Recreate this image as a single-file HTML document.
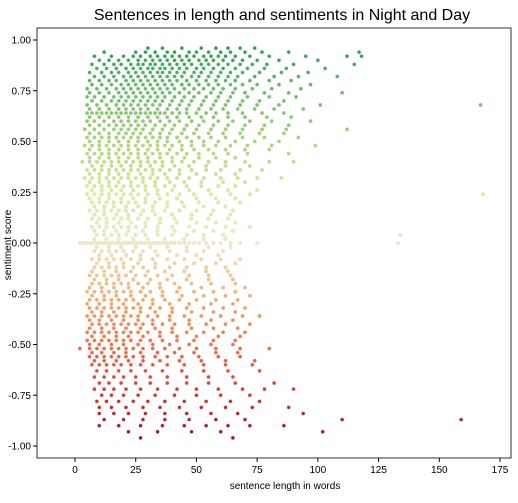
<!DOCTYPE html>
<html><head><meta charset="utf-8"><style>
body{margin:0;background:#fff;}
svg text{font-family:"Liberation Sans",sans-serif;}
</style></head><body>
<svg id="chart" width="518" height="498">
<text x="282" y="20" text-anchor="middle" font-size="16">Sentences in length and sentiments in Night and Day</text>
<g id="pts"></g>
<rect x="37" y="28" width="474" height="430" fill="none" stroke="#000" stroke-width="0.8"/>
<g id="axes"></g>
<text x="285" y="489" text-anchor="middle" font-size="10">sentence length in words</text>
<text x="11" y="245" text-anchor="middle" font-size="10" transform="rotate(-90 11 245)">sentiment score</text>
</svg>
<script>
const xTicks=[0,25,50,75,100,125,150,175];
const yTicks=[1,0.75,0.5,0.25,0,-0.25,-0.5,-0.75,-1];
const rowSentiments=[0.96,0.94,0.92,0.90,0.88,0.86,0.84,0.82,0.80,0.78,0.76,0.74,0.72,0.70,0.68,0.66,0.64,0.62,0.60,0.58,0.56,0.54,0.52,0.50,0.48,0.46,0.44,0.42,0.40,0.38,0.36,0.34,0.32,0.30,0.28,0.26,0.24,0.22,0.20,0.18,0.16,0.14,0.12,0.10,0.08,0.06,0.04,0.02,0,-0.02,-0.04,-0.06,-0.08,-0.10,-0.12,-0.14,-0.16,-0.18,-0.20,-0.22,-0.24,-0.26,-0.28,-0.30,-0.32,-0.34,-0.36,-0.38,-0.40,-0.42,-0.44,-0.46,-0.48,-0.50,-0.52,-0.54,-0.56,-0.58,-0.60,-0.63,-0.66,-0.69,-0.72,-0.75,-0.78,-0.81,-0.84,-0.87,-0.90,-0.93,-0.96];
const rowLengths=[
[30,36,44,52,58,63,68,74],
[12,25,29,33,38,41,47,50,55,60,64,70,77,88,117],
[8,15,20,24,27,31,34,37,40,43,46,49,53,56,59,62,66,72,80,95,112,118],
[10,14,18,22,26,29,32,35,38,41,44,47,51,54,57,61,65,69,75,84,100],
[7,12,16,19,23,26,28,31,33,36,39,42,45,48,52,55,59,63,68,73,79,90,115],
[9,13,17,21,24,27,30,32,35,37,40,43,46,50,53,57,61,66,71,78,87,103],
[6,11,15,18,22,25,28,31,34,36,39,42,45,49,52,56,60,64,69,76,85,96],
[8,12,16,20,23,26,29,32,35,38,41,44,48,51,55,59,63,67,74,82,92,108],
[6,10,14,17,21,24,27,30,33,36,39,42,46,50,54,58,62,66,72,80,89],
[7,11,15,19,22,25,28,31,34,37,40,44,47,51,55,59,64,69,75,84,97],
[5,9,13,17,20,23,26,29,32,35,38,41,45,49,53,57,61,66,73,81,93],
[6,10,14,18,21,24,27,30,33,36,39,43,47,51,56,60,65,70,78,88,110],
[5,8,12,16,19,22,25,28,31,34,37,41,45,49,54,59,64,71,80,91],
[7,11,15,18,21,24,27,30,33,36,40,44,48,53,58,63,69,76,86],
[5,9,13,17,20,23,26,29,32,35,39,43,47,52,57,62,68,75,84,101,167],
[6,10,14,18,21,24,27,30,34,38,42,46,51,56,61,67,74,82,94],
[5,7,9,11,13,15,17,19,21,23,25,27,29,31,33,35,37,40,43,46,50,54,58,63,69,77,86],
[6,10,14,18,22,26,30,34,38,42,47,52,57,63,70,79,89],
[5,8,12,16,19,22,25,28,31,35,39,43,48,53,59,65,72,81,97],
[6,10,14,17,20,23,26,29,33,37,41,46,51,57,63,70,78,88],
[4,8,12,16,19,22,25,28,32,36,40,45,50,56,62,69,77,87,112],
[6,10,14,18,21,24,27,31,35,39,44,49,55,61,68,76,86],
[5,8,11,14,17,20,23,26,29,32,35,38,42,46,51,56,62,69,78,92],
[6,10,14,18,22,26,30,34,38,43,48,53,59,66,74,84],
[4,7,10,13,16,19,22,25,28,31,34,37,40,44,48,53,58,64,71,81,99],
[6,10,14,18,22,26,30,34,39,44,49,55,62,70,80],
[5,8,11,14,17,20,23,26,29,32,35,38,42,46,51,57,63,71,88],
[6,10,14,18,22,26,30,35,40,45,51,58,66],
[3,6,9,12,15,18,21,24,27,30,33,36,40,44,49,55,62,70,80,90],
[7,11,15,19,23,27,31,36,41,47,54,62,72],
[5,8,11,14,17,20,23,26,29,32,35,39,43,48,54,60,68,77],
[6,10,14,18,22,27,32,37,43,50,58,66],
[4,7,10,13,16,19,22,25,28,31,34,38,42,47,53,60,67,75,85],
[6,10,14,18,23,28,33,39,45,52,61,70],
[5,8,11,14,17,20,23,26,29,33,37,41,46,52,59,66],
[7,11,15,19,24,29,34,40,47,55,63,75],
[5,8,11,14,17,20,23,26,30,34,38,43,49,56,64,72,168],
[6,10,14,19,24,29,35,42,50,58,66],
[7,10,13,16,19,22,25,29,33,38,44,51,59,68],
[8,12,16,21,26,32,38,45,53,62],
[6,9,12,15,18,21,24,28,32,37,43,50,57,65],
[8,12,17,22,27,33,40,48,56,64],
[7,10,13,16,19,22,26,30,35,41,48,55,63],
[9,13,18,23,29,35,42,50,58,66],
[7,10,13,16,19,22,25,29,34,40,47,54,62,72],
[8,12,17,22,28,34,41,49,57,65],
[9,12,15,18,21,25,29,34,40,46,53,61,134],
[8,13,18,24,30,37,45,53,62],
[2,3.5,5,6.5,8,9.5,11,12.5,14,15.5,17,18.5,20,21.5,23,24.5,26,27.5,29,30.5,32,33.5,35,36.5,38,39.5,41,43,45,47,49,51,54,57,60,64,68,75,133],
[9,14,19,25,31,38,46,55,64],
[8,11,14,17,20,24,28,33,39,46,53,61],
[10,15,21,27,34,42,50,59],
[7,10,13,16,19,23,27,32,38,45,52,60,68],
[9,14,20,26,33,41,49,58,66],
[8,11,14,17,20,24,28,33,39,46,54,62],
[7,12,17,23,30,37,45,54,63],
[6,9,12,15,18,21,25,29,34,40,47,55,64],
[8,13,18,24,31,38,46,55,65],
[7,10,13,16,19,22,26,30,35,41,48,56,66],
[6,11,16,22,28,35,43,52,61,70],
[5,8,11,14,17,20,23,27,31,36,42,49,57,66],
[7,12,17,23,29,36,44,53,62,72],
[6,9,12,15,18,21,24,28,32,37,43,50,58,67],
[5,10,15,20,26,32,39,47,56,65],
[6,9,12,15,18,21,24,27,31,35,40,46,53,61,70],
[7,11,16,21,27,33,40,48,57,66],
[5,8,11,14,17,20,23,26,30,34,39,45,52,60,69,76],
[6,10,15,20,26,32,39,47,56,65],
[7,10,13,16,19,22,25,28,32,36,41,47,54,62,72],
[6,11,16,21,27,33,40,48,57,67],
[5,8,11,14,17,20,23,26,30,35,40,46,53,61,70],
[7,12,17,22,28,35,42,50,59,68],
[5,8,11,14,17,20,23,27,31,36,42,49,57,66],
[6,10,15,20,26,32,39,47,56,65],
[2,6,9,12,15,18,21,24,28,32,37,43,50,58,68,80],
[7,11,16,21,27,34,41,49,58,67],
[6,9,12,15,18,21,24,28,33,38,44,51,59,68],
[8,12,17,22,28,35,43,52,62,74],
[7,10,13,16,19,23,27,32,38,45,53,62,73],
[9,13,18,23,29,36,44,53,63,76],
[8,12,16,20,25,31,38,46,55,65],
[10,14,19,25,31,38,46,55,66,82],
[8,12,16,21,27,34,42,50,59,69,78,90],
[11,15,20,26,33,41,50,60,72],
[9,13,18,24,30,37,45,54,64,76],
[10,15,21,28,35,43,52,62,73,88],
[10,16,22,29,37,46,56,67,94],
[12,20,28,37,47,58,70,110,159],
[10,18,27,36,45,54,63,72,86],
[22,34,48,60,102],
[27,65]
];
const NS="http://www.w3.org/2000/svg";
function xS(v){return 75+v*(425/175);}
function yS(v){return 243-v*203;}
const stops=[[-1,[165,0,38]],[-0.75,[215,48,39]],[-0.5,[244,109,67]],[-0.25,[253,174,97]],[0,[240,236,190]],[0.25,[217,239,139]],[0.5,[166,217,106]],[0.75,[102,189,99]],[1,[26,152,80]]];
function col(s){for(let i=0;i<stops.length-1;i++){const a=stops[i],b=stops[i+1];if(s<=b[0]){const t=(s-a[0])/(b[0]-a[0]);const c=a[1].map((v,k)=>Math.round(v+(b[1][k]-v)*t));return 'rgb('+c.join(',')+')';}}return 'rgb(0,104,55)';}
const pts=document.getElementById('pts');
rowSentiments.forEach((s,i)=>{rowLengths[i].forEach(L=>{
 const c=document.createElementNS(NS,'circle');
 c.setAttribute('cx',xS(L));c.setAttribute('cy',yS(s));c.setAttribute('r',1.9);
 c.setAttribute('fill',col(s));c.setAttribute('stroke','#ddd');c.setAttribute('stroke-width','0.4');
 
 
 pts.appendChild(c);});});
const ax=document.getElementById('axes');
xTicks.forEach(t=>{const x=xS(t);
 const l=document.createElementNS(NS,'line');l.setAttribute('x1',x);l.setAttribute('x2',x);l.setAttribute('y1',458);l.setAttribute('y2',462);l.setAttribute('stroke','#000');
 
 ax.appendChild(l);
 const tx=document.createElementNS(NS,'text');tx.setAttribute('x',x);tx.setAttribute('y',473);tx.setAttribute('font-size','10');tx.setAttribute('text-anchor','middle');tx.textContent=t;
 
 ax.appendChild(tx);});
yTicks.forEach(t=>{const y=yS(t);
 const l=document.createElementNS(NS,'line');l.setAttribute('x1',33);l.setAttribute('x2',37);l.setAttribute('y1',y);l.setAttribute('y2',y);l.setAttribute('stroke','#000');
 
 ax.appendChild(l);
 const tx=document.createElementNS(NS,'text');tx.setAttribute('x',31);tx.setAttribute('y',y+3.5);tx.setAttribute('font-size','10');tx.setAttribute('text-anchor','end');tx.textContent=t.toFixed(2);
 
 ax.appendChild(tx);});
</script>
</body></html>
